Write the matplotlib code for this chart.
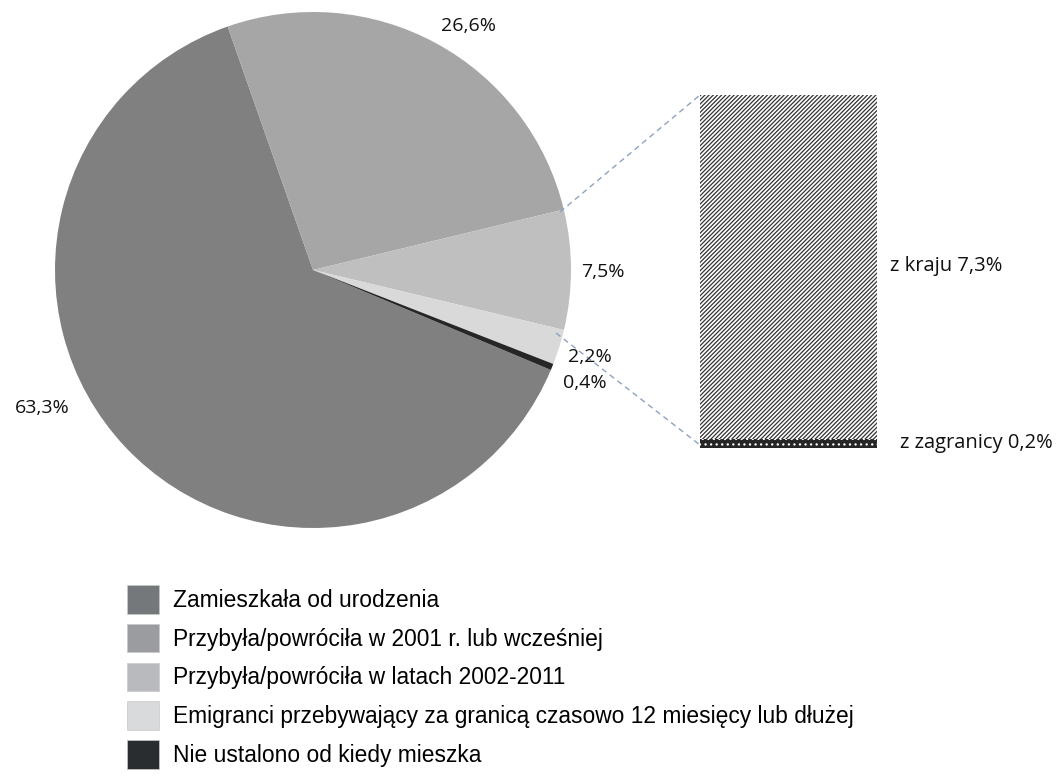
"""Pie-of-bar chart: ludność wg okresu zamieszkania."""
import matplotlib
matplotlib.use("Agg")
import matplotlib.pyplot as plt
from matplotlib.patches import Patch

# data
shares = [63.3, 26.6, 7.5, 2.2, 0.4]
share_labels = ["63,3%", "26,6%", "7,5%", "2,2%", "0,4%"]
categories = [
    "Zamieszkała od urodzenia",
    "Przybyła/powróciła w 2001 r. lub wcześniej",
    "Przybyła/powróciła w latach 2002-2011",
    "Emigranci przebywający za granicą czasowo 12 miesięcy lub dłużej",
    "Nie ustalono od kiedy mieszka",
]
split_values = [0.2, 7.3]
split_labels = ["z zagranicy 0,2%", "z kraju 7,3%"]

pie_colors = ["#808080", "#a6a6a6", "#bfbfbf", "#d9d9d9", "#262626"]
legend_colors = ["#75787b", "#9a9c9f", "#b9babd", "#d9dadb", "#2a2d30"]

W, H = 1060, 778
plt.rcParams["hatch.linewidth"] = 0.9
fig = plt.figure(figsize=(W / 100, H / 100), dpi=100)
ax = fig.add_axes([0, 0, 1, 1])

cx, cy, r = 313, H - 270, 258
wedges, _ = ax.pie(shares, colors=pie_colors, startangle=-22.8,
                   counterclock=False, center=(cx, cy), radius=r,
                   wedgeprops=dict(linewidth=0), frame=True)
ax.set_xlim(0, W)
ax.set_ylim(0, H)
ax.axis("off")

lab_font = "Open Sans"
label_pos = [(42, H - 408), (469, H - 26), (603, H - 272), (590, H - 357), (585, H - 383)]
for (x, y), t in zip(label_pos, share_labels):
    ax.text(x, y, t, ha="center", va="center", fontsize=14, family=lab_font,
            color="#111111")

# bar of the 7.5% slice
bar_x, bar_w = 788.5, 177
bar_bottom, bar_top = H - 448, H - 95
scale = (bar_top - bar_bottom) / sum(split_values)
ax.bar(bar_x, split_values[0] * scale, bottom=bar_bottom, width=bar_w,
       color="#262626", edgecolor="white", hatch="...", linewidth=0)
ax.bar(bar_x, split_values[1] * scale, bottom=bar_bottom + split_values[0] * scale,
       width=bar_w, color="white", edgecolor="#333333", hatch="/" * 8, linewidth=0)

ax.text(890, H - 266, split_labels[1], ha="left", va="center", fontsize=14.5,
        family=lab_font, color="#111111")
ax.text(900, H - 443, split_labels[0], ha="left", va="center", fontsize=14.5,
        family=lab_font, color="#111111")

# connector lines
ax.plot([560, 700], [H - 212, H - 95], ls=(0, (4, 3)), color="#8ea2c0", lw=1)
ax.plot([556, 700], [H - 333, H - 445], ls=(0, (4, 3)), color="#8ea2c0", lw=1)

handles = [Patch(facecolor=c, edgecolor="#c8c8c8", linewidth=0.5) for c in legend_colors]
leg = ax.legend(handles, categories, loc="upper left",
                bbox_to_anchor=(127 / W, 1 - 585 / H), bbox_transform=fig.transFigure,
                frameon=False, prop=dict(family="Liberation Sans", size=16.4),
                handlelength=1.4, handleheight=1.55, handletextpad=0.6,
                labelspacing=0.45, borderpad=0, borderaxespad=0)

fig.savefig("out.png", dpi=100)
